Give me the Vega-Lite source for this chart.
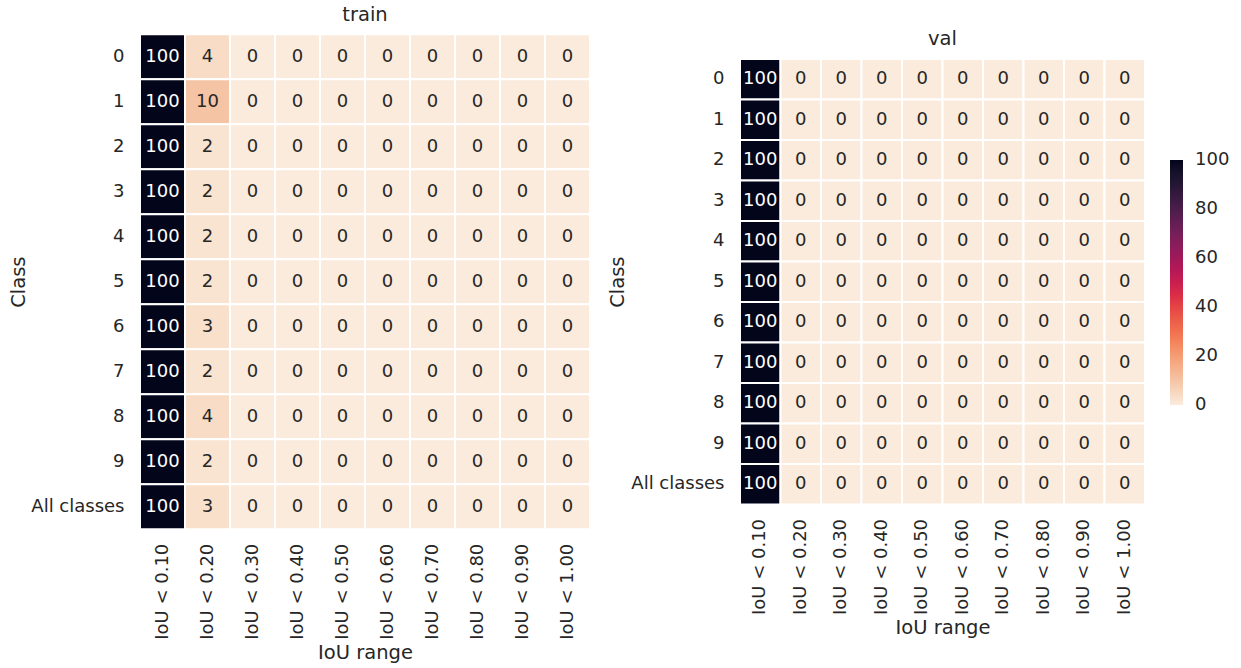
{
  "$schema": "https://vega.github.io/schema/vega-lite/v6.json",
  "padding": {"left": 8, "top": 4, "right": 5, "bottom": 3},
  "background": "white",
  "config": {
    "font": "DejaVu Sans",
    "view": {"stroke": null},
    "axis": {"ticks": false, "domain": false, "grid": false, "labelFontSize": 18, "labelColor": "#262626", "titleFontSize": 19.5, "titleFontWeight": "normal", "titleColor": "#262626", "labelPadding": 14},
    "title": {"fontSize": 19.5, "fontWeight": "normal", "color": "#262626", "offset": 8},
    "legend": {"labelFontSize": 18, "labelColor": "#262626"}
  },
  "datasets": {
    "train": [
      {"cls": "0", "iou": "IoU < 0.10", "v": 100}, {"cls": "0", "iou": "IoU < 0.20", "v": 4}, {"cls": "0", "iou": "IoU < 0.30", "v": 0}, {"cls": "0", "iou": "IoU < 0.40", "v": 0}, {"cls": "0", "iou": "IoU < 0.50", "v": 0}, {"cls": "0", "iou": "IoU < 0.60", "v": 0}, {"cls": "0", "iou": "IoU < 0.70", "v": 0}, {"cls": "0", "iou": "IoU < 0.80", "v": 0}, {"cls": "0", "iou": "IoU < 0.90", "v": 0}, {"cls": "0", "iou": "IoU < 1.00", "v": 0},
      {"cls": "1", "iou": "IoU < 0.10", "v": 100}, {"cls": "1", "iou": "IoU < 0.20", "v": 10}, {"cls": "1", "iou": "IoU < 0.30", "v": 0}, {"cls": "1", "iou": "IoU < 0.40", "v": 0}, {"cls": "1", "iou": "IoU < 0.50", "v": 0}, {"cls": "1", "iou": "IoU < 0.60", "v": 0}, {"cls": "1", "iou": "IoU < 0.70", "v": 0}, {"cls": "1", "iou": "IoU < 0.80", "v": 0}, {"cls": "1", "iou": "IoU < 0.90", "v": 0}, {"cls": "1", "iou": "IoU < 1.00", "v": 0},
      {"cls": "2", "iou": "IoU < 0.10", "v": 100}, {"cls": "2", "iou": "IoU < 0.20", "v": 2}, {"cls": "2", "iou": "IoU < 0.30", "v": 0}, {"cls": "2", "iou": "IoU < 0.40", "v": 0}, {"cls": "2", "iou": "IoU < 0.50", "v": 0}, {"cls": "2", "iou": "IoU < 0.60", "v": 0}, {"cls": "2", "iou": "IoU < 0.70", "v": 0}, {"cls": "2", "iou": "IoU < 0.80", "v": 0}, {"cls": "2", "iou": "IoU < 0.90", "v": 0}, {"cls": "2", "iou": "IoU < 1.00", "v": 0},
      {"cls": "3", "iou": "IoU < 0.10", "v": 100}, {"cls": "3", "iou": "IoU < 0.20", "v": 2}, {"cls": "3", "iou": "IoU < 0.30", "v": 0}, {"cls": "3", "iou": "IoU < 0.40", "v": 0}, {"cls": "3", "iou": "IoU < 0.50", "v": 0}, {"cls": "3", "iou": "IoU < 0.60", "v": 0}, {"cls": "3", "iou": "IoU < 0.70", "v": 0}, {"cls": "3", "iou": "IoU < 0.80", "v": 0}, {"cls": "3", "iou": "IoU < 0.90", "v": 0}, {"cls": "3", "iou": "IoU < 1.00", "v": 0},
      {"cls": "4", "iou": "IoU < 0.10", "v": 100}, {"cls": "4", "iou": "IoU < 0.20", "v": 2}, {"cls": "4", "iou": "IoU < 0.30", "v": 0}, {"cls": "4", "iou": "IoU < 0.40", "v": 0}, {"cls": "4", "iou": "IoU < 0.50", "v": 0}, {"cls": "4", "iou": "IoU < 0.60", "v": 0}, {"cls": "4", "iou": "IoU < 0.70", "v": 0}, {"cls": "4", "iou": "IoU < 0.80", "v": 0}, {"cls": "4", "iou": "IoU < 0.90", "v": 0}, {"cls": "4", "iou": "IoU < 1.00", "v": 0},
      {"cls": "5", "iou": "IoU < 0.10", "v": 100}, {"cls": "5", "iou": "IoU < 0.20", "v": 2}, {"cls": "5", "iou": "IoU < 0.30", "v": 0}, {"cls": "5", "iou": "IoU < 0.40", "v": 0}, {"cls": "5", "iou": "IoU < 0.50", "v": 0}, {"cls": "5", "iou": "IoU < 0.60", "v": 0}, {"cls": "5", "iou": "IoU < 0.70", "v": 0}, {"cls": "5", "iou": "IoU < 0.80", "v": 0}, {"cls": "5", "iou": "IoU < 0.90", "v": 0}, {"cls": "5", "iou": "IoU < 1.00", "v": 0},
      {"cls": "6", "iou": "IoU < 0.10", "v": 100}, {"cls": "6", "iou": "IoU < 0.20", "v": 3}, {"cls": "6", "iou": "IoU < 0.30", "v": 0}, {"cls": "6", "iou": "IoU < 0.40", "v": 0}, {"cls": "6", "iou": "IoU < 0.50", "v": 0}, {"cls": "6", "iou": "IoU < 0.60", "v": 0}, {"cls": "6", "iou": "IoU < 0.70", "v": 0}, {"cls": "6", "iou": "IoU < 0.80", "v": 0}, {"cls": "6", "iou": "IoU < 0.90", "v": 0}, {"cls": "6", "iou": "IoU < 1.00", "v": 0},
      {"cls": "7", "iou": "IoU < 0.10", "v": 100}, {"cls": "7", "iou": "IoU < 0.20", "v": 2}, {"cls": "7", "iou": "IoU < 0.30", "v": 0}, {"cls": "7", "iou": "IoU < 0.40", "v": 0}, {"cls": "7", "iou": "IoU < 0.50", "v": 0}, {"cls": "7", "iou": "IoU < 0.60", "v": 0}, {"cls": "7", "iou": "IoU < 0.70", "v": 0}, {"cls": "7", "iou": "IoU < 0.80", "v": 0}, {"cls": "7", "iou": "IoU < 0.90", "v": 0}, {"cls": "7", "iou": "IoU < 1.00", "v": 0},
      {"cls": "8", "iou": "IoU < 0.10", "v": 100}, {"cls": "8", "iou": "IoU < 0.20", "v": 4}, {"cls": "8", "iou": "IoU < 0.30", "v": 0}, {"cls": "8", "iou": "IoU < 0.40", "v": 0}, {"cls": "8", "iou": "IoU < 0.50", "v": 0}, {"cls": "8", "iou": "IoU < 0.60", "v": 0}, {"cls": "8", "iou": "IoU < 0.70", "v": 0}, {"cls": "8", "iou": "IoU < 0.80", "v": 0}, {"cls": "8", "iou": "IoU < 0.90", "v": 0}, {"cls": "8", "iou": "IoU < 1.00", "v": 0},
      {"cls": "9", "iou": "IoU < 0.10", "v": 100}, {"cls": "9", "iou": "IoU < 0.20", "v": 2}, {"cls": "9", "iou": "IoU < 0.30", "v": 0}, {"cls": "9", "iou": "IoU < 0.40", "v": 0}, {"cls": "9", "iou": "IoU < 0.50", "v": 0}, {"cls": "9", "iou": "IoU < 0.60", "v": 0}, {"cls": "9", "iou": "IoU < 0.70", "v": 0}, {"cls": "9", "iou": "IoU < 0.80", "v": 0}, {"cls": "9", "iou": "IoU < 0.90", "v": 0}, {"cls": "9", "iou": "IoU < 1.00", "v": 0},
      {"cls": "All classes", "iou": "IoU < 0.10", "v": 100}, {"cls": "All classes", "iou": "IoU < 0.20", "v": 3}, {"cls": "All classes", "iou": "IoU < 0.30", "v": 0}, {"cls": "All classes", "iou": "IoU < 0.40", "v": 0}, {"cls": "All classes", "iou": "IoU < 0.50", "v": 0}, {"cls": "All classes", "iou": "IoU < 0.60", "v": 0}, {"cls": "All classes", "iou": "IoU < 0.70", "v": 0}, {"cls": "All classes", "iou": "IoU < 0.80", "v": 0}, {"cls": "All classes", "iou": "IoU < 0.90", "v": 0}, {"cls": "All classes", "iou": "IoU < 1.00", "v": 0}
    ],
    "val": [
      {"cls": "0", "iou": "IoU < 0.10", "v": 100}, {"cls": "0", "iou": "IoU < 0.20", "v": 0}, {"cls": "0", "iou": "IoU < 0.30", "v": 0}, {"cls": "0", "iou": "IoU < 0.40", "v": 0}, {"cls": "0", "iou": "IoU < 0.50", "v": 0}, {"cls": "0", "iou": "IoU < 0.60", "v": 0}, {"cls": "0", "iou": "IoU < 0.70", "v": 0}, {"cls": "0", "iou": "IoU < 0.80", "v": 0}, {"cls": "0", "iou": "IoU < 0.90", "v": 0}, {"cls": "0", "iou": "IoU < 1.00", "v": 0},
      {"cls": "1", "iou": "IoU < 0.10", "v": 100}, {"cls": "1", "iou": "IoU < 0.20", "v": 0}, {"cls": "1", "iou": "IoU < 0.30", "v": 0}, {"cls": "1", "iou": "IoU < 0.40", "v": 0}, {"cls": "1", "iou": "IoU < 0.50", "v": 0}, {"cls": "1", "iou": "IoU < 0.60", "v": 0}, {"cls": "1", "iou": "IoU < 0.70", "v": 0}, {"cls": "1", "iou": "IoU < 0.80", "v": 0}, {"cls": "1", "iou": "IoU < 0.90", "v": 0}, {"cls": "1", "iou": "IoU < 1.00", "v": 0},
      {"cls": "2", "iou": "IoU < 0.10", "v": 100}, {"cls": "2", "iou": "IoU < 0.20", "v": 0}, {"cls": "2", "iou": "IoU < 0.30", "v": 0}, {"cls": "2", "iou": "IoU < 0.40", "v": 0}, {"cls": "2", "iou": "IoU < 0.50", "v": 0}, {"cls": "2", "iou": "IoU < 0.60", "v": 0}, {"cls": "2", "iou": "IoU < 0.70", "v": 0}, {"cls": "2", "iou": "IoU < 0.80", "v": 0}, {"cls": "2", "iou": "IoU < 0.90", "v": 0}, {"cls": "2", "iou": "IoU < 1.00", "v": 0},
      {"cls": "3", "iou": "IoU < 0.10", "v": 100}, {"cls": "3", "iou": "IoU < 0.20", "v": 0}, {"cls": "3", "iou": "IoU < 0.30", "v": 0}, {"cls": "3", "iou": "IoU < 0.40", "v": 0}, {"cls": "3", "iou": "IoU < 0.50", "v": 0}, {"cls": "3", "iou": "IoU < 0.60", "v": 0}, {"cls": "3", "iou": "IoU < 0.70", "v": 0}, {"cls": "3", "iou": "IoU < 0.80", "v": 0}, {"cls": "3", "iou": "IoU < 0.90", "v": 0}, {"cls": "3", "iou": "IoU < 1.00", "v": 0},
      {"cls": "4", "iou": "IoU < 0.10", "v": 100}, {"cls": "4", "iou": "IoU < 0.20", "v": 0}, {"cls": "4", "iou": "IoU < 0.30", "v": 0}, {"cls": "4", "iou": "IoU < 0.40", "v": 0}, {"cls": "4", "iou": "IoU < 0.50", "v": 0}, {"cls": "4", "iou": "IoU < 0.60", "v": 0}, {"cls": "4", "iou": "IoU < 0.70", "v": 0}, {"cls": "4", "iou": "IoU < 0.80", "v": 0}, {"cls": "4", "iou": "IoU < 0.90", "v": 0}, {"cls": "4", "iou": "IoU < 1.00", "v": 0},
      {"cls": "5", "iou": "IoU < 0.10", "v": 100}, {"cls": "5", "iou": "IoU < 0.20", "v": 0}, {"cls": "5", "iou": "IoU < 0.30", "v": 0}, {"cls": "5", "iou": "IoU < 0.40", "v": 0}, {"cls": "5", "iou": "IoU < 0.50", "v": 0}, {"cls": "5", "iou": "IoU < 0.60", "v": 0}, {"cls": "5", "iou": "IoU < 0.70", "v": 0}, {"cls": "5", "iou": "IoU < 0.80", "v": 0}, {"cls": "5", "iou": "IoU < 0.90", "v": 0}, {"cls": "5", "iou": "IoU < 1.00", "v": 0},
      {"cls": "6", "iou": "IoU < 0.10", "v": 100}, {"cls": "6", "iou": "IoU < 0.20", "v": 0}, {"cls": "6", "iou": "IoU < 0.30", "v": 0}, {"cls": "6", "iou": "IoU < 0.40", "v": 0}, {"cls": "6", "iou": "IoU < 0.50", "v": 0}, {"cls": "6", "iou": "IoU < 0.60", "v": 0}, {"cls": "6", "iou": "IoU < 0.70", "v": 0}, {"cls": "6", "iou": "IoU < 0.80", "v": 0}, {"cls": "6", "iou": "IoU < 0.90", "v": 0}, {"cls": "6", "iou": "IoU < 1.00", "v": 0},
      {"cls": "7", "iou": "IoU < 0.10", "v": 100}, {"cls": "7", "iou": "IoU < 0.20", "v": 0}, {"cls": "7", "iou": "IoU < 0.30", "v": 0}, {"cls": "7", "iou": "IoU < 0.40", "v": 0}, {"cls": "7", "iou": "IoU < 0.50", "v": 0}, {"cls": "7", "iou": "IoU < 0.60", "v": 0}, {"cls": "7", "iou": "IoU < 0.70", "v": 0}, {"cls": "7", "iou": "IoU < 0.80", "v": 0}, {"cls": "7", "iou": "IoU < 0.90", "v": 0}, {"cls": "7", "iou": "IoU < 1.00", "v": 0},
      {"cls": "8", "iou": "IoU < 0.10", "v": 100}, {"cls": "8", "iou": "IoU < 0.20", "v": 0}, {"cls": "8", "iou": "IoU < 0.30", "v": 0}, {"cls": "8", "iou": "IoU < 0.40", "v": 0}, {"cls": "8", "iou": "IoU < 0.50", "v": 0}, {"cls": "8", "iou": "IoU < 0.60", "v": 0}, {"cls": "8", "iou": "IoU < 0.70", "v": 0}, {"cls": "8", "iou": "IoU < 0.80", "v": 0}, {"cls": "8", "iou": "IoU < 0.90", "v": 0}, {"cls": "8", "iou": "IoU < 1.00", "v": 0},
      {"cls": "9", "iou": "IoU < 0.10", "v": 100}, {"cls": "9", "iou": "IoU < 0.20", "v": 0}, {"cls": "9", "iou": "IoU < 0.30", "v": 0}, {"cls": "9", "iou": "IoU < 0.40", "v": 0}, {"cls": "9", "iou": "IoU < 0.50", "v": 0}, {"cls": "9", "iou": "IoU < 0.60", "v": 0}, {"cls": "9", "iou": "IoU < 0.70", "v": 0}, {"cls": "9", "iou": "IoU < 0.80", "v": 0}, {"cls": "9", "iou": "IoU < 0.90", "v": 0}, {"cls": "9", "iou": "IoU < 1.00", "v": 0},
      {"cls": "All classes", "iou": "IoU < 0.10", "v": 100}, {"cls": "All classes", "iou": "IoU < 0.20", "v": 0}, {"cls": "All classes", "iou": "IoU < 0.30", "v": 0}, {"cls": "All classes", "iou": "IoU < 0.40", "v": 0}, {"cls": "All classes", "iou": "IoU < 0.50", "v": 0}, {"cls": "All classes", "iou": "IoU < 0.60", "v": 0}, {"cls": "All classes", "iou": "IoU < 0.70", "v": 0}, {"cls": "All classes", "iou": "IoU < 0.80", "v": 0}, {"cls": "All classes", "iou": "IoU < 0.90", "v": 0}, {"cls": "All classes", "iou": "IoU < 1.00", "v": 0}
    ]
  },
  "hconcat": [
    {
      "data": {"name": "train"},
      "title": "train",
      "width": 450,
      "height": 495,
      "encoding": {
        "x": {"field": "iou", "type": "nominal", "title": "IoU range", "sort": ["IoU < 0.10", "IoU < 0.20", "IoU < 0.30", "IoU < 0.40", "IoU < 0.50", "IoU < 0.60", "IoU < 0.70", "IoU < 0.80", "IoU < 0.90", "IoU < 1.00"], "scale": {"paddingInner": 0, "paddingOuter": 0}, "axis": {"labelAngle": -90, "titlePadding": 4}},
        "y": {"field": "cls", "type": "nominal", "title": "Class", "sort": ["0", "1", "2", "3", "4", "5", "6", "7", "8", "9", "All classes"], "scale": {"paddingInner": 0, "paddingOuter": 0}, "axis": {"labelAngle": 0, "titlePadding": 2, "labelPadding": 16}}
      },
      "layer": [
        {
          "mark": {"type": "rect", "stroke": "white", "strokeWidth": 2},
          "encoding": {
            "color": {"field": "v", "type": "quantitative", "legend": null, "scale": {"domain": [0, 10, 14.3, 28.6, 42.9, 57.1, 71.4, 85.7, 100], "range": ["#FAEBDD", "#F5C4A5", "#F6B48F", "#F37651", "#E13342", "#AD1759", "#701F57", "#35193E", "#03051A"]}}
          }
        },
        {
          "mark": {"type": "text", "fontSize": 18},
          "encoding": {
            "text": {"field": "v", "type": "quantitative"},
            "color": {"condition": {"test": "datum.v > 50", "value": "#FFFFFF"}, "value": "#262626"}
          }
        }
      ]
    },
    {
      "data": {"name": "val"},
      "title": "val",
      "width": 405,
      "height": 445.5,
      "encoding": {
        "x": {"field": "iou", "type": "nominal", "title": "IoU range", "sort": ["IoU < 0.10", "IoU < 0.20", "IoU < 0.30", "IoU < 0.40", "IoU < 0.50", "IoU < 0.60", "IoU < 0.70", "IoU < 0.80", "IoU < 0.90", "IoU < 1.00"], "scale": {"paddingInner": 0, "paddingOuter": 0}, "axis": {"labelAngle": -90, "titlePadding": 4}},
        "y": {"field": "cls", "type": "nominal", "title": "Class", "sort": ["0", "1", "2", "3", "4", "5", "6", "7", "8", "9", "All classes"], "scale": {"paddingInner": 0, "paddingOuter": 0}, "axis": {"labelAngle": 0, "titlePadding": 3, "labelPadding": 16}}
      },
      "layer": [
        {
          "mark": {"type": "rect", "stroke": "white", "strokeWidth": 2},
          "encoding": {
            "color": {"field": "v", "type": "quantitative", "scale": {"domain": [0, 10, 14.3, 28.6, 42.9, 57.1, 71.4, 85.7, 100], "range": ["#FAEBDD", "#F5C4A5", "#F6B48F", "#F37651", "#E13342", "#AD1759", "#701F57", "#35193E", "#03051A"]},
              "legend": {"title": null, "orient": "none", "legendX": 430, "legendY": 101, "direction": "vertical", "gradientLength": 245, "gradientThickness": 13, "gradientStrokeWidth": 0, "values": [0, 20, 40, 60, 80, 100], "labelOffset": 12, "encode": {"labels": {"update": {"baseline": {"value": "middle"}}}}}}
          }
        },
        {
          "mark": {"type": "text", "fontSize": 18},
          "encoding": {
            "text": {"field": "v", "type": "quantitative"},
            "color": {"condition": {"test": "datum.v > 50", "value": "#FFFFFF"}, "value": "#262626"}
          }
        }
      ]
    }
  ],
  "spacing": 16,
  "center": true,
  "resolve": {"scale": {"color": "independent", "x": "independent", "y": "independent"}, "legend": {"color": "independent"}}
}
